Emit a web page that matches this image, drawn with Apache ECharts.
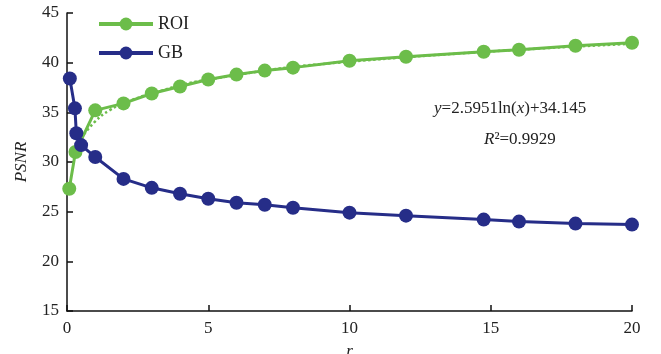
<!DOCTYPE html>
<html>
<head>
<meta charset="utf-8">
<script src="https://cdn.jsdelivr.net/npm/echarts@6/dist/echarts.min.js"></script>
<style>
  html, body { margin: 0; padding: 0; background: #fff; }
  #main { width: 661px; height: 354px; }
</style>
</head>
<body>
<div id="main"></div>
<script>
// values
var roiX = [0.08, 0.3, 1, 2, 3, 4, 5, 6, 7, 8, 10, 12, 14.75, 16, 18, 20];
var roiY = [27.3, 31.0, 35.2, 35.9, 36.9, 37.6, 38.3, 38.8, 39.2, 39.5, 40.2, 40.6, 41.1, 41.3, 41.7, 42.0];
var gbX = [0.1, 0.28, 0.33, 0.5, 1, 2, 3, 4, 5, 6, 7, 8, 10, 12, 14.75, 16, 18, 20];
var gbY = [38.4, 35.4, 32.9, 31.7, 30.5, 28.3, 27.4, 26.8, 26.3, 25.9, 25.7, 25.4, 24.9, 24.6, 24.2, 24.0, 23.8, 23.7];
// dotted trend line (visible only near the start)
var trendX = [0.5, 1, 1.5, 2, 3, 5, 10, 20];
var trendY = [32.4, 34.1, 35.2, 35.9, 36.9, 38.3, 40.1, 41.9];

var green = '#6cbd4a';
var blue = '#262d88';
var font = '"Liberation Serif", "DejaVu Serif", serif';

function pairs(xs, ys) {
  var out = [];
  for (var i = 0; i < xs.length; i++) out.push([xs[i], ys[i]]);
  return out;
}

var chart = echarts.init(document.getElementById('main'));

option = {
  backgroundColor: '#fff',
  animation: false,
  grid: { left: 67, right: 29, top: 13, bottom: 43, outerBoundsMode: 'none' },
  legend: {
    orient: 'vertical',
    left: 92,
    top: 10,
    itemWidth: 54,
    itemHeight: 16,
    itemGap: 11,
    data: ['ROI', 'GB'],
    lineStyle: { width: 4 },
    textStyle: { fontFamily: font, fontSize: 18, color: '#222' }
  },
  xAxis: {
    type: 'value',
    min: 0, max: 20, interval: 5,
    name: 'r',
    nameLocation: 'middle',
    nameGap: 32,
    nameTextStyle: { fontFamily: font, fontStyle: 'italic', fontSize: 17, color: '#222' },
    axisLine: { lineStyle: { color: '#111', width: 1.5 } },
    axisTick: { inside: true, length: 6, lineStyle: { color: '#111', width: 1.5 } },
    axisLabel: { fontFamily: font, fontSize: 17, color: '#222', margin: 9 },
    splitLine: { show: false }
  },
  yAxis: {
    type: 'value',
    min: 15, max: 45, interval: 5,
    name: 'PSNR',
    nameLocation: 'middle',
    nameGap: 37,
    nameTextStyle: { fontFamily: font, fontStyle: 'italic', fontSize: 17, color: '#222' },
    axisLine: { show: true, lineStyle: { color: '#111', width: 1.5 } },
    axisTick: { show: true, inside: true, length: 6, lineStyle: { color: '#111', width: 1.5 } },
    axisLabel: { fontFamily: font, fontSize: 17, color: '#222', margin: 8 },
    splitLine: { show: false }
  },
  graphic: [{
    type: 'text',
    left: 434, top: 100,
    style: {
      text: '{i|y}=2.5951ln({i|x})+34.145',
      rich: { i: { fontStyle: 'italic', fontFamily: font, fontSize: 17 } },
      fontFamily: font, fontSize: 17, fill: '#222'
    }
  }, {
    type: 'text',
    left: 484, top: 131,
    style: {
      text: '{i|R}²=0.9929',
      rich: { i: { fontStyle: 'italic', fontFamily: font, fontSize: 17 } },
      fontFamily: font, fontSize: 17, fill: '#222'
    }
  }],
  series: [{
    name: 'trend',
    type: 'line',
    data: pairs(trendX, trendY),
    smooth: true,
    symbol: 'none',
    lineStyle: { color: green, width: 2.5, type: 'dotted' },
    z: 1
  }, {
    name: 'ROI',
    type: 'line',
    data: pairs(roiX, roiY),
    symbol: 'circle',
    symbolSize: 14,
    itemStyle: { color: green },
    lineStyle: { color: green, width: 3 },
    z: 2
  }, {
    name: 'GB',
    type: 'line',
    data: pairs(gbX, gbY),
    symbol: 'circle',
    symbolSize: 14,
    itemStyle: { color: blue },
    lineStyle: { color: blue, width: 3 },
    z: 3
  }]
};
chart.setOption(option, true);
</script>
</body>
</html>
